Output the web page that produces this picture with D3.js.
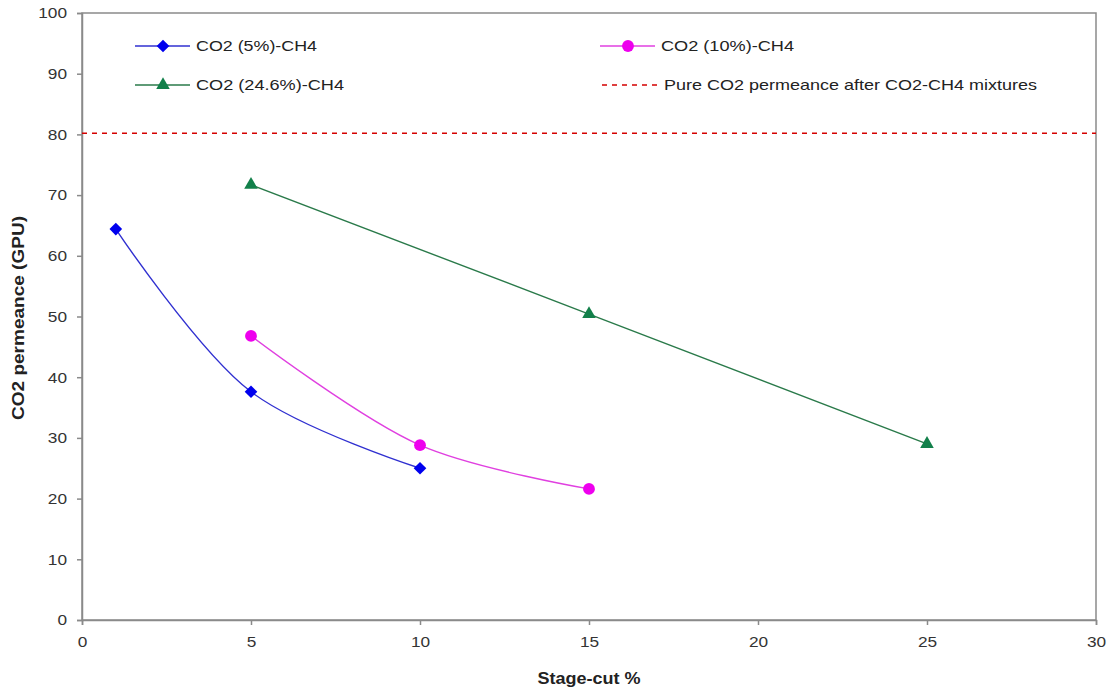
<!DOCTYPE html>
<html><head><meta charset="utf-8">
<script src="https://cdn.jsdelivr.net/npm/d3@7"></script>
<style>body{margin:0;background:#fff}svg{display:block}text{font-family:"Liberation Sans",Arial,sans-serif}</style>
</head><body>
<svg id="c" width="1107" height="689"></svg>
<script>
const xTicks = [0,5,10,15,20,25,30];
const yTicks = [0,10,20,30,40,50,60,70,80,90,100];
const s5x = [1,5,10];       const s5y = [64.4,37.6,25.0];
const s10x = [5,10,15];     const s10y = [46.8,28.8,21.6];
const s246x = [5,15,25];    const s246y = [71.7,50.4,29.0];
const pureCO2 = 80.2;
const names = ["CO2 (5%)-CH4","CO2 (10%)-CH4","CO2 (24.6%)-CH4","Pure CO2 permeance after CO2-CH4 mixtures"];

const svg = d3.select("#c");
const x = d3.scaleLinear().domain([0,30]).range([82,1096]);
const y = d3.scaleLinear().domain([0,100]).range([620,13]);

svg.append("rect").attr("x",82).attr("y",13).attr("width",1096-82).attr("height",620-13)
  .attr("fill","none").attr("stroke","#8a8a8a").attr("stroke-width",1.5);

const yAxis = svg.append("g").attr("transform","translate(82,0)")
  .call(d3.axisLeft(y).tickValues(yTicks).tickSize(5).tickPadding(10).tickFormat(d3.format("d")));
const xAxis = svg.append("g").attr("transform","translate(0,620)")
  .call(d3.axisBottom(x).tickValues(xTicks).tickSize(5).tickPadding(11).tickFormat(d3.format("d")));
[yAxis,xAxis].forEach(a=>{
  a.selectAll("path,line").attr("stroke","#8a8a8a").attr("stroke-width",1.5);
  a.selectAll("text").attr("font-size",15).attr("fill","#333")
    .attr("textLength",function(){return this.textContent.length*9.6;})
    .attr("lengthAdjust","spacingAndGlyphs");
});

svg.append("text").attr("x",589).attr("y",684).attr("text-anchor","middle")
  .attr("font-size",16).attr("font-weight","bold").attr("fill","#222")
  .attr("textLength",103).attr("lengthAdjust","spacingAndGlyphs").text("Stage-cut %");
svg.append("text").attr("transform","translate(24,318) rotate(-90)").attr("text-anchor","middle")
  .attr("font-size",16).attr("font-weight","bold").attr("fill","#222")
  .attr("textLength",204).attr("lengthAdjust","spacingAndGlyphs").text("CO2 permeance (GPU)");

svg.append("line").attr("x1",82).attr("x2",1096).attr("y1",y(pureCO2)).attr("y2",y(pureCO2))
  .attr("stroke","#d40000").attr("stroke-width",1.5).attr("stroke-dasharray","5,5");

const diamond = {draw(ctx,size){const r=Math.sqrt(size/2);ctx.moveTo(0,-r);ctx.lineTo(r,0);ctx.lineTo(0,r);ctx.lineTo(-r,0);ctx.closePath();}};
const series = [
  {xs:s5x, ys:s5y, line:"#3030d0", fill:"#0000ee", sym:diamond, size:80, curve:d3.curveCatmullRom.alpha(0.5)},
  {xs:s10x, ys:s10y, line:"#e040e0", fill:"#ee00ee", sym:d3.symbolCircle, size:110, curve:d3.curveCatmullRom.alpha(0.5)},
  {xs:s246x, ys:s246y, line:"#2a7a4a", fill:"#12804a", sym:d3.symbolTriangle, size:80, curve:d3.curveLinear}
];
series.forEach(s=>{
  const pts = s.xs.map((v,i)=>[x(v),y(s.ys[i])]);
  svg.append("path").attr("d",d3.line().curve(s.curve)(pts)).attr("fill","none")
    .attr("stroke",s.line).attr("stroke-width",1.4);
  pts.forEach(p=>svg.append("path").attr("d",d3.symbol(s.sym,s.size)())
    .attr("transform",`translate(${p[0]},${p[1]})`).attr("fill",s.fill));
});

const leg = [
  {x:135, y:46, s:series[0], name:names[0], w:121},
  {x:600, y:46, s:series[1], name:names[1], w:133},
  {x:135, y:85, s:series[2], name:names[2], w:148},
  {x:600, y:85, s:null, name:names[3], w:373}
];
leg.forEach(l=>{
  if(l.s){
    svg.append("line").attr("x1",l.x).attr("x2",l.x+55).attr("y1",l.y).attr("y2",l.y)
      .attr("stroke",l.s.line).attr("stroke-width",1.4);
    svg.append("path").attr("d",d3.symbol(l.s.sym,l.s.size)())
      .attr("transform",`translate(${l.x+28},${l.y})`).attr("fill",l.s.fill);
  } else {
    svg.append("line").attr("x1",l.x+2).attr("x2",l.x+57).attr("y1",l.y).attr("y2",l.y)
      .attr("stroke","#d40000").attr("stroke-width",1.5).attr("stroke-dasharray","5,5");
  }
  svg.append("text").attr("x",l.x+(l.s?61:64)).attr("y",l.y+5).attr("font-size",15).attr("fill","#222")
    .attr("textLength",l.w).attr("lengthAdjust","spacingAndGlyphs").text(l.name);
});
</script>
</body></html>
